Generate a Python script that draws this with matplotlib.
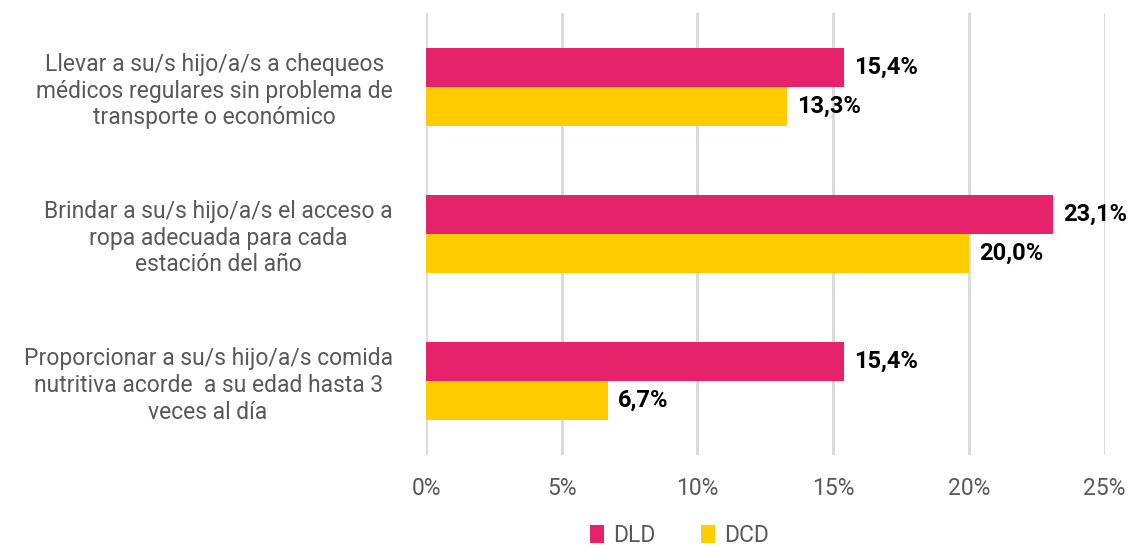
import numpy as np
import matplotlib.pyplot as plt

plt.rcParams['font.family'] = ['Roboto', 'DejaVu Sans']

categorias = [
    "Llevar a su/s hijo/a/s a chequeos\nmédicos regulares sin problema de\ntransporte o económico",
    "Brindar a su/s hijo/a/s el acceso a\nropa adecuada para cada\nestación del año",
    "Proporcionar a su/s hijo/a/s comida\nnutritiva acorde  a su edad hasta 3\nveces al día",
]
dld = [15.4, 23.1, 15.4]
dcd = [13.3, 20.0, 6.7]
series = ["DLD", "DCD"]
colores = ["#E6236A", "#FFCC00"]
ticks_x = [0, 5, 10, 15, 20, 25]

fig = plt.figure(figsize=(11.33, 5.48), dpi=100)
ax = fig.add_axes([0.376, 0.170, 0.599, 0.806])

y = np.arange(len(categorias))
alto = 0.265

b1 = ax.barh(y - alto / 2, dld, height=alto, color=colores[0], label=series[0], zorder=3)
b2 = ax.barh(y + alto / 2, dcd, height=alto, color=colores[1], label=series[1], zorder=3)

for barras, vals in [(b1, dld), (b2, dcd)]:
    for b, v in zip(barras, vals):
        ax.annotate(f"{v:.1f}%".replace(".", ","),
                    (b.get_width(), b.get_y() + b.get_height() / 2),
                    xytext=(7, 0), textcoords="offset points",
                    va="center", ha="left", fontsize=17, fontweight="bold", color="black")

ax.set_xlim(0, 25)
ax.set_ylim(len(categorias) - 0.5, -0.5)
ax.set_xticks(ticks_x)
ax.set_xticklabels([f"{t}%" for t in ticks_x], fontsize=16.5, color="#595959")
ax.set_yticks(y)
ax.set_yticklabels(categorias, fontsize=16.5, color="#595959", multialignment="center", linespacing=1.2)
ax.tick_params(axis="y", length=0, pad=24)
ax.tick_params(axis="x", length=0, pad=16)

ax.grid(axis="x", color="#D9D9D9", linewidth=2, zorder=0)
for s in ax.spines.values():
    s.set_visible(False)

fig.legend(handles=[b1, b2], labels=series, loc="lower center", bbox_to_anchor=(0.6, -0.036),
           ncol=2, frameon=False, fontsize=16.5, labelcolor="#595959",
           handlelength=0.6, handleheight=0.8, handletextpad=0.4, columnspacing=2.0)

fig.savefig("out.png", dpi=100)
